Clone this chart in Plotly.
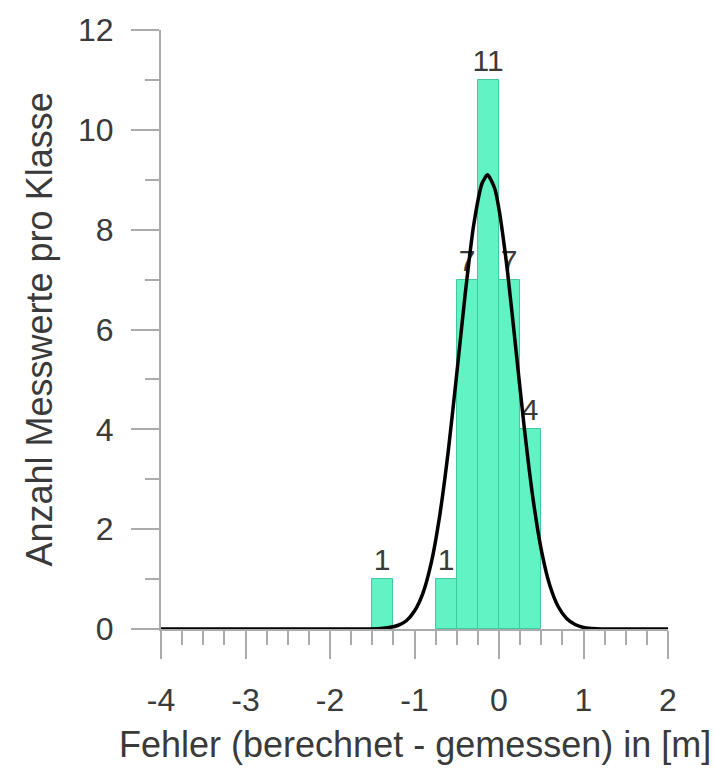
import plotly.graph_objects as go

# Histogram bins (centres, m) and counts
bin_centers = [-1.375, -0.625, -0.375, -0.125, 0.125, 0.375]
bin_width = 0.25
counts = [1, 1, 7, 11, 7, 4]
count_labels = ["1", "1", "7", "11", "7", "4"]

# Fitted normal curve
curve_x = [-4.0, -3.0, -2.0, -1.6, -1.4, -1.3, -1.2, -1.1, -1.0, -0.9, -0.8, -0.7,
           -0.6, -0.5, -0.4, -0.3, -0.2, -0.135, -0.05, 0.0, 0.1, 0.2, 0.3, 0.4,
           0.5, 0.6, 0.7, 0.8, 0.9, 1.0, 1.1, 1.2, 1.5, 2.0]
curve_y = [0, 0, 0, 0, 0.01, 0.03, 0.07, 0.16, 0.36, 0.72, 1.34, 2.29,
           3.57, 5.11, 6.71, 8.09, 8.93, 9.1, 8.82, 8.41, 7.17, 5.60, 4.02, 2.64,
           1.59, 0.88, 0.45, 0.21, 0.09, 0.03, 0.01, 0, 0, 0]

x_tickvals = [-4, -3, -2, -1, 0, 1, 2]
x_ticktext = ["-4", "-3", "-2", "-1", "0", "1", "2"]
y_tickvals = [0, 2, 4, 6, 8, 10, 12]

x_title = "Fehler (berechnet - gemessen) in [m]"
y_title = "Anzahl Messwerte pro Klasse"

FONT = "Liberation Sans, Arial, sans-serif"
TXT = "#3a3a3a"
AX = "#ababab"

fig = go.Figure()
fig.add_trace(go.Bar(
    x=bin_centers, y=counts, width=[bin_width] * len(counts),
    marker=dict(color="#62F3C4", line=dict(color="#40C99E", width=1)),
    text=count_labels, textposition="outside", constraintext="none",
    textfont=dict(family=FONT, size=30, color=TXT),
    cliponaxis=False, showlegend=False,
))
fig.add_trace(go.Scatter(
    x=curve_x, y=curve_y, mode="lines",
    line=dict(color="black", width=3.5, shape="spline", smoothing=0.6),
    cliponaxis=False, showlegend=False,
))

fig.update_layout(
    width=715, height=771,
    margin=dict(l=161, r=47, t=25, b=142),
    paper_bgcolor="white", plot_bgcolor="white",
    font=dict(family=FONT, color=TXT),
    bargap=0,
    xaxis=dict(
        range=[-4, 2], tickvals=x_tickvals, ticktext=x_ticktext,
        ticks="outside", ticklen=28, tickwidth=2, tickcolor=AX,
        minor=dict(dtick=0.25, ticks="outside", ticklen=14, tickwidth=2, tickcolor=AX),
        showline=True, linecolor=AX, linewidth=2,
        showgrid=False, zeroline=False, layer="below traces",
        tickfont=dict(family=FONT, size=32, color=TXT),
        ticklabelstandoff=14,
    ),
    yaxis=dict(
        range=[0, 12], tickvals=y_tickvals,
        ticks="outside", ticklen=28, tickwidth=2, tickcolor=AX,
        minor=dict(dtick=1, ticks="outside", ticklen=14, tickwidth=2, tickcolor=AX),
        showline=True, linecolor=AX, linewidth=2,
        showgrid=False, zeroline=False, layer="below traces",
        tickfont=dict(family=FONT, size=32, color=TXT),
        ticklabelstandoff=11,
    ),
    annotations=[
        dict(text=x_title, xref="paper", yref="paper", x=0.5, y=-0.192,
             xanchor="center", yanchor="middle", showarrow=False,
             font=dict(family=FONT, size=36, color=TXT)),
        dict(text=y_title, xref="paper", yref="paper", x=-0.2406, y=0.5,
             xanchor="center", yanchor="middle", textangle=-90, showarrow=False,
             font=dict(family=FONT, size=36, color=TXT)),
    ],
)

fig.write_html(
    "out.html",
    config={"displayModeBar": False},
    post_script="document.body.style.margin='0';document.body.style.overflow='hidden';",
)
